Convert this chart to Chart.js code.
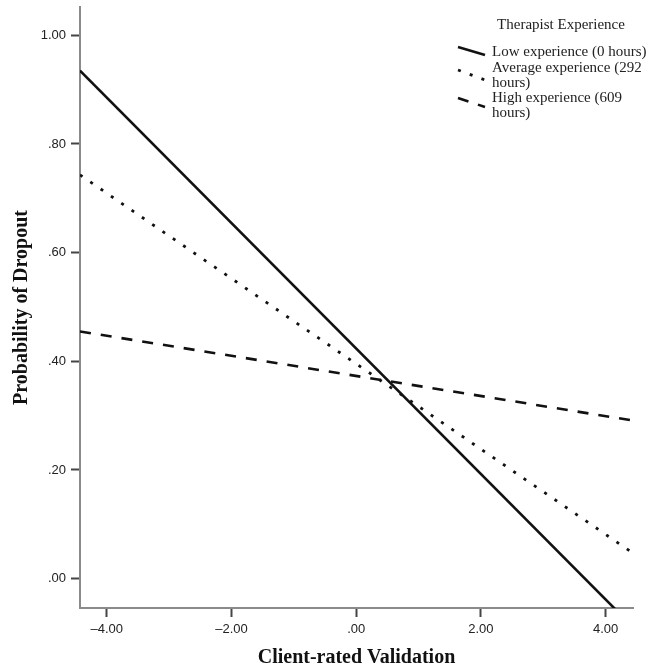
<!DOCTYPE html>
<html>
<head>
<meta charset="utf-8">
<script src="https://cdn.jsdelivr.net/npm/chart.js@4"></script>
<style>
  html, body { margin: 0; padding: 0; background: #fff; }
  #wrap { width: 661px; height: 668px; position: relative; }
</style>
</head>
<body>
<div id="wrap"><canvas id="chart"></canvas></div>
<script>
  // values
  const xEnds = [-4.43, 4.44];
  const lowExp = [0.935, -0.089];
  const avgExp = [0.743, 0.047];
  const highExp = [0.455, 0.291];

  const xTicks = [-4, -2, 0, 2, 4];
  const xTickLabels = ["\u20134.00", "\u20132.00", ".00", "2.00", "4.00"];
  const yTicks = [0, 0.2, 0.4, 0.6, 0.8, 1.0];
  const yTickLabels = [".00", ".20", ".40", ".60", ".80", "1.00"];

  const seriesNames = ["Low experience (0 hours)", "Average experience (292 hours)", "High experience (609 hours)"];
  // legend text split the way the figure wraps it
  const legendLines = [["Low experience (0 hours)"], ["Average experience (292", "hours)"], ["High experience (609", "hours)"]];
  const legendTitle = "Therapist Experience";

  const pts = vals => vals.map((v, i) => ({ x: xEnds[i], y: v }));

  const serif = "'Liberation Serif', 'Times New Roman', serif";
  const sans = "'Liberation Sans', Arial, sans-serif";

  // legend drawn by hand: diagonal line samples + wrapped labels
  const legendPlugin = {
    id: "customLegend",
    afterDraw(chart) {
      const ctx = chart.ctx;
      ctx.save();
      ctx.fillStyle = "#222";
      ctx.font = "15px " + serif;
      ctx.textBaseline = "middle";
      ctx.textAlign = "center";
      ctx.fillText(legendTitle, 561, 25);
      ctx.textAlign = "left";
      const rows = [52, 68, 98];
      const y0 = [-5, 2, 0], y1 = [3, 12, 9];
      chart.data.datasets.forEach((ds, i) => {
        const y = rows[i];
        ctx.strokeStyle = ds.borderColor;
        ctx.lineWidth = ds.borderWidth;
        ctx.setLineDash(ds.borderDash || []);
        ctx.beginPath();
        ctx.moveTo(458, y + y0[i]);
        ctx.lineTo(485, y + y1[i]);
        ctx.stroke();
        ctx.setLineDash([]);
        legendLines[i].forEach((t, j) => ctx.fillText(t, 492, y + j * 15));
      });
      ctx.restore();
    }
  };

  new Chart(document.getElementById("chart"), {
    type: "line",
    data: {
      datasets: [
        { label: seriesNames[0], data: pts(lowExp), borderColor: "#111", borderWidth: 2.6, pointRadius: 0 },
        { label: seriesNames[1], data: pts(avgExp), borderColor: "#111", borderWidth: 2.8, borderDash: [3, 9.5], pointRadius: 0 },
        { label: seriesNames[2], data: pts(highExp), borderColor: "#111", borderWidth: 2.6, borderDash: [11, 10], pointRadius: 0 },
      ],
    },
    options: {
      responsive: true,
      maintainAspectRatio: false,
      animation: false,
      events: [],
      layout: { padding: { top: 7, right: 28, left: 0, bottom: 0 } },
      plugins: { legend: { display: false }, tooltip: { enabled: false } },
      scales: {
        x: {
          type: "linear",
          min: xEnds[0],
          max: xEnds[1],
          afterBuildTicks: s => { s.ticks = xTicks.map(v => ({ value: v })); },
          afterFit: s => { s.height = 60; s.paddingLeft = 0; s.paddingRight = 0; },
          ticks: {
            callback: (v, i) => xTickLabels[i],
            color: "#222",
            font: { family: sans, size: 13 },
            padding: 5,
            maxRotation: 0,
          },
          grid: { drawOnChartArea: false, drawTicks: true, tickLength: 9, tickColor: "#444", tickWidth: 2 },
          border: { display: true, color: "#8a8a8a", width: 2 },
          title: {
            display: true,
            text: "Client-rated Validation",
            color: "#111",
            font: { family: serif, size: 20, weight: "bold", lineHeight: 1 },
            padding: { top: 0, bottom: 0 },
          },
        },
        y: {
          min: -0.054,
          max: 1.052,
          afterBuildTicks: s => { s.ticks = yTicks.map(v => ({ value: v })); },
          afterFit: s => { s.width = 80; s.paddingTop = 0; s.paddingBottom = 0; },
          ticks: {
            callback: (v, i) => yTickLabels[i],
            color: "#222",
            font: { family: sans, size: 13 },
            padding: 5,
          },
          grid: { drawOnChartArea: false, drawTicks: true, tickLength: 9, tickColor: "#444", tickWidth: 2 },
          border: { display: true, color: "#8a8a8a", width: 2 },
          title: {
            display: true,
            text: "Probability of Dropout",
            color: "#111",
            font: { family: serif, size: 20, weight: "bold", lineHeight: 1 },
            padding: { top: 12, bottom: 0 },
          },
        },
      },
    },
    plugins: [legendPlugin],
  });
</script>
</body>
</html>
